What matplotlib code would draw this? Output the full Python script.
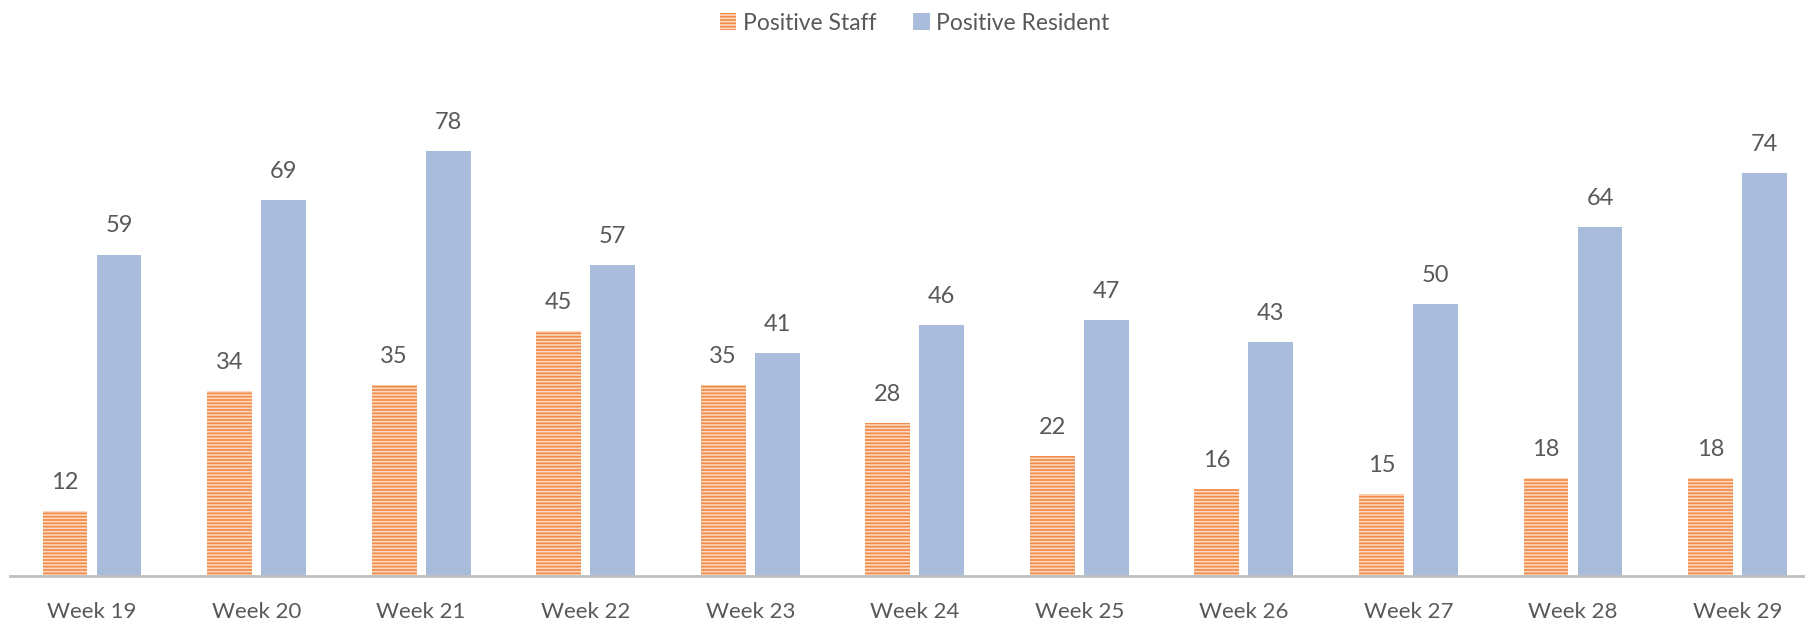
import matplotlib.pyplot as plt
import numpy as np

weeks = ['Week 19', 'Week 20', 'Week 21', 'Week 22', 'Week 23', 'Week 24',
         'Week 25', 'Week 26', 'Week 27', 'Week 28', 'Week 29']
staff = [12, 34, 35, 45, 35, 28, 22, 16, 15, 18, 18]
resident = [59, 69, 78, 57, 41, 46, 47, 43, 50, 64, 74]

plt.rcParams['font.family'] = ['Lato', 'DejaVu Sans']
plt.rcParams['hatch.linewidth'] = 1.2

W, H = 1805, 633
fig = plt.figure(figsize=(W / 100, H / 100), dpi=100)
ax = fig.add_axes([9.7 / W, (H - 576) / H, (W - 9.7) / W, (576 - 60) / H])

x = np.arange(len(weeks))
bw = 0.273
off = 0.164
txt = '#595959'

b1 = ax.bar(x - off, staff, bw, color='#F08A45', edgecolor='#FCD9C0',
            linewidth=0, hatch='-----', label='Positive Staff')
b2 = ax.bar(x + off, resident, bw, color='#AABCDC', linewidth=0,
            label='Positive Resident')

for bars, vals in ((b1, staff), (b2, resident)):
    for r, v in zip(bars, vals):
        ax.annotate(str(v), (r.get_x() + r.get_width() / 2, v),
                    xytext=(0, 13), textcoords='offset points',
                    ha='center', va='bottom', fontsize=17, color=txt)

ax.set_xlim(-0.5, 10.41)
ax.set_ylim(0, 94.7)
ax.set_xticks(x)
ax.set_xticklabels(weeks, fontsize=16, color=txt)
ax.tick_params(axis='x', length=0, pad=19)
ax.set_yticks([])
for s in ['top', 'right', 'left']:
    ax.spines[s].set_visible(False)
ax.spines['bottom'].set_color('#BFBFBF')
ax.spines['bottom'].set_linewidth(2)

fig.legend(handles=[b1, b2], loc='center', bbox_to_anchor=(915 / W, 1 - 23 / H),
           ncol=2, frameon=False, fontsize=16.5, labelcolor=txt,
           handlelength=0.7, handleheight=0.7, handletextpad=0.3, columnspacing=1.6)

fig.savefig('out.png', dpi=100, facecolor='white')
